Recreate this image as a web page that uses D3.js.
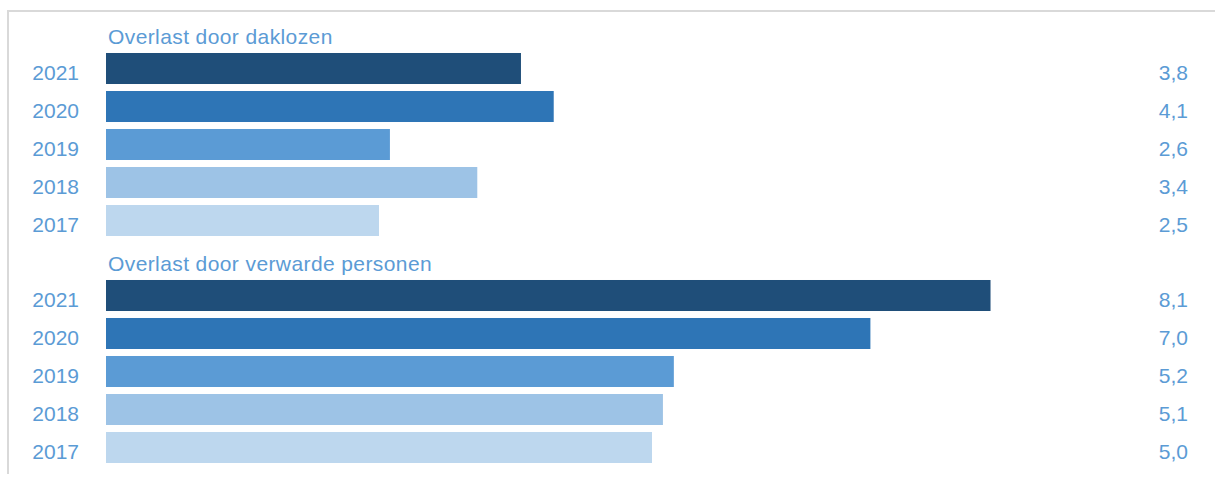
<!DOCTYPE html>
<html>
<head>
<meta charset="utf-8">
<script src="https://cdn.jsdelivr.net/npm/d3@7"></script>
<style>
    body { margin: 0; background: #fff; }
    text { font-family: "Liberation Sans", Arial, sans-serif; fill: #5b9bd5; }
</style>
</head>
<body>
<script>
//chart data
var groups = ["Overlast door daklozen", "Overlast door verwarde personen"];
var years = ["2021", "2020", "2019", "2018", "2017"];
var daklozen = [3.8, 4.1, 2.6, 3.4, 2.5];
var verwarden = [8.1, 7.0, 5.2, 5.1, 5.0];
var seriesValues = [daklozen, verwarden];
var yearColors = ["#1f4e79", "#2e75b6", "#5b9bd5", "#9dc3e6", "#bdd7ee"];

//frame dimensions
var width = 1215,
    height = 477;

var svg = d3.select("body")
    .append("svg")
    .attr("width", width)
    .attr("height", height);

//light frame border on the top and left
svg.append("path")
    .attr("d", "M8,474V11H1215")
    .attr("fill", "none")
    .attr("stroke", "#d9d9d9")
    .attr("stroke-width", 2);

//scales
var xScale = d3.scaleLinear()
    .domain([0, 10])
    .range([106, 1198]);

var groupScale = d3.scaleBand()
    .domain(groups)
    .range([49.5, 49.5 + 454]);

var yScale = d3.scaleBand()
    .domain(years)
    .range([0, 190])
    .paddingInner(0.184)
    .paddingOuter(0.092);

var color = d3.scaleOrdinal()
    .domain(years)
    .range(yearColors);

var fmt = function (v) {
    return d3.format(".1f")(v).replace(".", ",");
};

//one block per group
var blocks = svg.selectAll(".block")
    .data(groups)
    .enter()
    .append("g")
    .attr("class", "block")
    .attr("transform", function (d) {
        return "translate(0," + groupScale(d) + ")";
    });

//group title
blocks.append("text")
    .attr("class", "groupTitle")
    .attr("x", 108)
    .attr("y", -6)
    .style("font-size", "21px")
    .style("letter-spacing", "0.4px")
    .text(function (d) { return d; });

//rows inside each block
var rows = blocks.selectAll(".row")
    .data(function (d, gi) {
        return years.map(function (y, i) {
            return { year: y, value: seriesValues[gi][i] };
        });
    })
    .enter()
    .append("g")
    .attr("class", "row");

rows.append("rect")
    .attr("x", xScale(0))
    .attr("y", function (d) { return yScale(d.year); })
    .attr("width", function (d) { return xScale(d.value) - xScale(0); })
    .attr("height", yScale.bandwidth())
    .style("fill", function (d) { return color(d.year); });

//year labels
rows.append("text")
    .attr("x", 79)
    .attr("y", function (d) { return yScale(d.year) + yScale.bandwidth() / 2 + 4; })
    .attr("dy", "0.35em")
    .attr("text-anchor", "end")
    .style("font-size", "21px")
    .text(function (d) { return d.year; });

//value labels on the right
rows.append("text")
    .attr("x", 1188)
    .attr("y", function (d) { return yScale(d.year) + yScale.bandwidth() / 2 + 4; })
    .attr("dy", "0.35em")
    .attr("text-anchor", "end")
    .style("font-size", "21px")
    .text(function (d) { return fmt(d.value); });
</script>
</body>
</html>
